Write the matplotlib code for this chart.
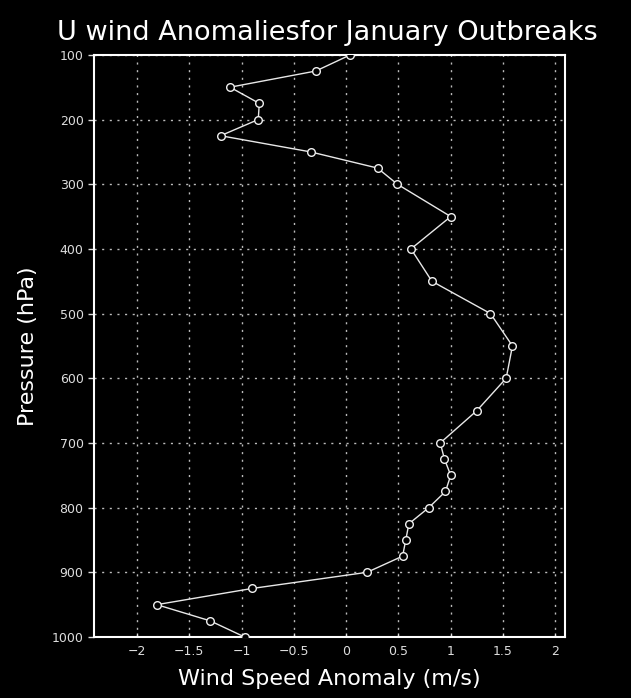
import matplotlib
matplotlib.use("Agg")
import matplotlib.pyplot as plt

pressure = [100, 125, 150, 175, 200, 225, 250, 275, 300, 350, 400, 450, 500, 550,
            600, 650, 700, 725, 750, 775, 800, 825, 850, 875, 900, 925, 950, 975, 1000]
u_anom = [0.04, -0.29, -1.11, -0.83, -0.84, -1.20, -0.34, 0.30, 0.49, 1.00, 0.62, 0.82,
          1.38, 1.59, 1.53, 1.25, 0.90, 0.94, 1.00, 0.95, 0.79, 0.60, 0.57, 0.54, 0.20,
          -0.90, -1.81, -1.30, -0.97]
x_ticks = [-2, -1.5, -1, -0.5, 0, 0.5, 1, 1.5, 2]
x_tick_labels = ["\u22122", "\u22121.5", "\u22121", "\u22120.5", "0", "0.5", "1", "1.5", "2"]
y_ticks = [100, 200, 300, 400, 500, 600, 700, 800, 900, 1000]

fig = plt.figure(figsize=(6.31, 6.98), dpi=100, facecolor="black")
ax = fig.add_axes([0.149, 0.0874, 0.746, 0.834], facecolor="black")

ax.plot(u_anom, pressure, color="#e8e8e8", lw=1.0, marker="o", markersize=5.5,
        markerfacecolor="black", markeredgecolor="#f0f0f0", markeredgewidth=1.0, zorder=3)

ax.set_xlim(-2.41, 2.09)
ax.set_ylim(1000, 100)
ax.set_xticks(x_ticks)
ax.set_xticklabels(x_tick_labels)
ax.set_yticks(y_ticks)

ax.grid(True, color="#bbbbbb", linestyle=(0, (1.5, 4)), linewidth=1.0)
for s in ax.spines.values():
    s.set_color("white")
    s.set_linewidth(1.5)
ax.tick_params(axis="both", colors="#dddddd", labelsize=9, length=4, width=1)
ax.tick_params(axis="x", direction="in", length=3, pad=6)

ax.set_xlabel("Wind Speed Anomaly (m/s)", color="white", fontsize=16, labelpad=8)
ax.set_ylabel("Pressure (hPa)", color="white", fontsize=16, labelpad=10)
fig.text(0.519, 0.953, "U wind Anomaliesfor January Outbreaks", color="white",
         fontsize=19.5, ha="center", va="center")

fig.savefig("out.png", dpi=100, facecolor="black")
